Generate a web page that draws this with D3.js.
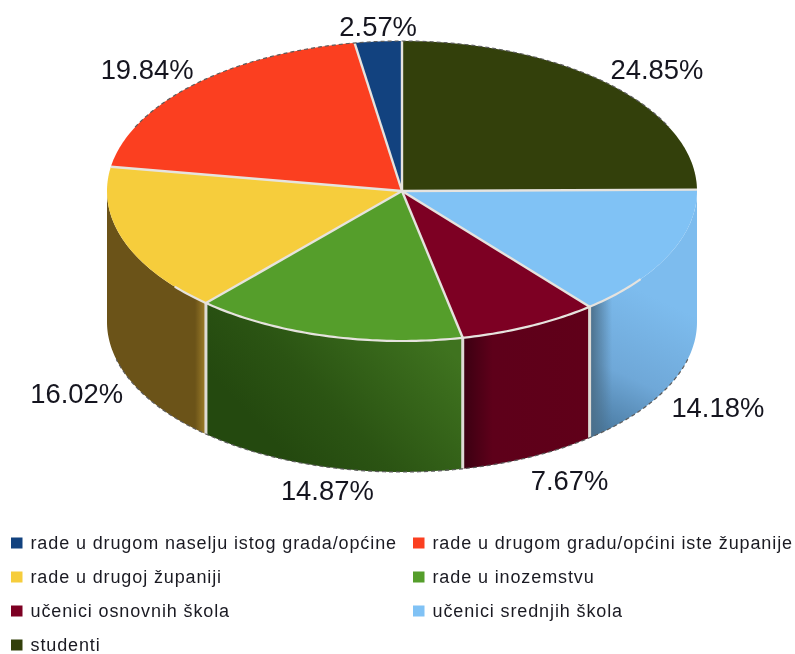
<!DOCTYPE html>
<html>
<head>
<meta charset="utf-8">
<script src="https://d3js.org/d3.v7.min.js"></script>
<style>
  html, body { margin: 0; padding: 0; background: #fff; }
  svg { display: block; font-family: "Liberation Sans", Arial, sans-serif; filter: blur(0.4px); }
</style>
</head>
<body>
<div id="chart"></div>
<script>
// Data, in legend order (the pie runs counter-clockwise from 12 o'clock)
const categories = [
  "rade u drugom naselju istog grada/općine",
  "rade u drugom gradu/općini iste županije",
  "rade u drugoj županiji",
  "rade u inozemstvu",
  "učenici osnovnih škola",
  "učenici srednjih škola",
  "studenti"
];
const shares = [2.57, 19.84, 16.02, 14.87, 7.67, 14.18, 24.85];
const colors = ["#12427f", "#fb3f20", "#f6cd3c", "#559e2b", "#7d0023", "#80c2f5", "#33400b"];

const width = 795, height = 654;
const depth = 131;

const svg = d3.select("#chart").append("svg")
  .attr("width", width)
  .attr("height", height);

// Unit circle -> squashed ellipse of the top face
const xScale = d3.scaleLinear().domain([-1, 1]).range([107, 697]);
const yScale = d3.scaleLinear().domain([-1, 1]).range([41, 341]);
const colorScale = d3.scaleOrdinal().domain(categories).range(colors);

const px = a => xScale(Math.sin(a));
const py = a => yScale(-Math.cos(a));

const pie = d3.pie().sort(null).startAngle(0).endAngle(-2 * Math.PI);
const slices = pie(shares).map((d, i) => ({
  ...d,
  name: categories[i],
  from: d.endAngle,   // smaller angle
  to: d.startAngle
}));

const line = d3.line();
const arcPoints = (from, to, dy = 0) => {
  const n = Math.max(2, Math.ceil((to - from) * 60));
  return d3.range(n + 1).map(i => {
    const a = from + (to - from) * i / n;
    return [px(a), py(a) + dy];
  });
};

// Gradients for the outer wall
const defs = svg.append("defs");
function wallGradient(id, x1, y1, x2, y2, stops) {
  const g = defs.append("linearGradient").attr("id", id)
    .attr("gradientUnits", "userSpaceOnUse")
    .attr("x1", x1).attr("y1", y1).attr("x2", x2).attr("y2", y2);
  stops.forEach(s => g.append("stop").attr("offset", s[0]).attr("stop-color", s[1]));
}
wallGradient("wall-yellow", 107, 0, 207, 0, [[0, "#6b5318"], [0.88, "#6b5318"], [1, "#a5842c"]]);
wallGradient("wall-green", 300, 470, 440, 340, [[0, "#24490f"], [0.35, "#2b5413"], [1, "#3f731f"]]);
wallGradient("wall-red", 465, 0, 590, 0, [[0, "#3d0012"], [0.22, "#5e001a"], [1, "#600019"]]);
wallGradient("wall-blue", 660, 300, 590, 450, [[0, "#7dbcee"], [0.5, "#6fa8d8"], [1, "#3d6a8e"]]);
wallGradient("wall-blue-edge", 590, 0, 612, 0, [[0, "#4b6f8a"], [1, "#4b6f8a00"]]);

const wallFill = {
  "rade u drugoj županiji": "url(#wall-yellow)",
  "rade u inozemstvu": "url(#wall-green)",
  "učenici osnovnih škola": "url(#wall-red)",
  "učenici srednjih škola": "url(#wall-blue)"
};

// Only the front half of the wall is visible
const frontFrom = -1.5 * Math.PI, frontTo = -0.5 * Math.PI;
const walls = slices
  .map(d => ({ ...d, a: Math.max(d.from, frontFrom), b: Math.min(d.to, frontTo) }))
  .filter(d => d.b > d.a);
const wallPath = d => line(arcPoints(d.a, d.b).concat(arcPoints(d.a, d.b, depth).reverse())) + "Z";

svg.append("g").selectAll("path").data(walls).join("path")
  .attr("d", wallPath)
  .attr("fill", d => wallFill[d.name]);

svg.append("g").selectAll("path")
  .data(walls.filter(d => d.name === "učenici srednjih škola")).join("path")
  .attr("d", wallPath)
  .attr("fill", "url(#wall-blue-edge)");

// Light seams between wall sections
svg.append("g").selectAll("line")
  .data(walls.filter(d => d.a > frontFrom)).join("line")
  .attr("x1", d => px(d.a)).attr("x2", d => px(d.a))
  .attr("y1", d => py(d.a)).attr("y2", d => py(d.a) + depth)
  .attr("stroke", "#dedbd6")
  .attr("stroke-width", 3);

// Top face: fills first, then the radial seams
svg.append("g").selectAll("path").data(slices).join("path")
  .attr("d", d => line([[xScale(0), yScale(0)], ...arcPoints(d.from, d.to)]) + "Z")
  .attr("fill", d => colorScale(d.name));

svg.append("g").selectAll("line").data(slices).join("line")
  .attr("x1", xScale(0)).attr("y1", yScale(0))
  .attr("x2", d => px(d.to)).attr("y2", d => py(d.to))
  .attr("stroke", "#e6e3de")
  .attr("stroke-width", 2.4);

// Light rim along the front edge of the top face
svg.append("path")
  .attr("d", line(arcPoints(-1.3 * Math.PI, -0.72 * Math.PI)))
  .attr("fill", "none")
  .attr("stroke", "#e6e3de")
  .attr("stroke-width", 2.2);

// Dashed silhouette of the drum
const dashed = svg.append("g")
  .attr("fill", "none")
  .attr("stroke", "#5c5c5c")
  .attr("stroke-width", 1.2)
  .attr("stroke-dasharray", "4 3");
dashed.append("path").attr("d", line(arcPoints(-0.36 * Math.PI, 0.36 * Math.PI)));
dashed.append("path").attr("d", line(arcPoints(-1.42 * Math.PI, -0.58 * Math.PI, depth)));

// Percentage labels, just outside the drum, with hand nudges
const labelNudges = [[4, 10], [-11, 2], [0, 13], [14, -1], [18, 0], [3, 11], [12, 3]];
svg.append("g").selectAll("text").data(slices).join("text")
  .attr("x", (d, i) => xScale(1.17 * Math.sin((d.from + d.to) / 2)) + labelNudges[i][0])
  .attr("y", (d, i) => {
    const a = (d.from + d.to) / 2;
    return yScale(-1.17 * Math.cos(a)) + (Math.cos(a) < 0 ? depth : 0) + labelNudges[i][1];
  })
  .attr("dy", "0.36em")
  .attr("text-anchor", "middle")
  .attr("font-size", 27.4)
  .attr("fill", "#15151f")
  .text(d => d.value.toFixed(2) + "%");

// Legend, two columns
const legendX = d3.scalePoint().domain([0, 1]).range([11, 413]);
const legendY = d3.scaleLinear().domain([0, 3]).range([543, 645]);
const legend = svg.append("g").selectAll("g").data(categories).join("g")
  .attr("transform", (d, i) => `translate(${legendX(i % 2)},${legendY(Math.floor(i / 2))})`);
legend.append("rect")
  .attr("x", 0).attr("y", -5.5)
  .attr("width", 11.5).attr("height", 11)
  .attr("fill", d => colorScale(d));
legend.append("text")
  .attr("x", 19.5)
  .attr("dy", "0.34em")
  .attr("font-size", 18)
  .attr("letter-spacing", 0.88)
  .attr("fill", "#1a1a22")
  .text(d => d);
</script>
</body>
</html>
